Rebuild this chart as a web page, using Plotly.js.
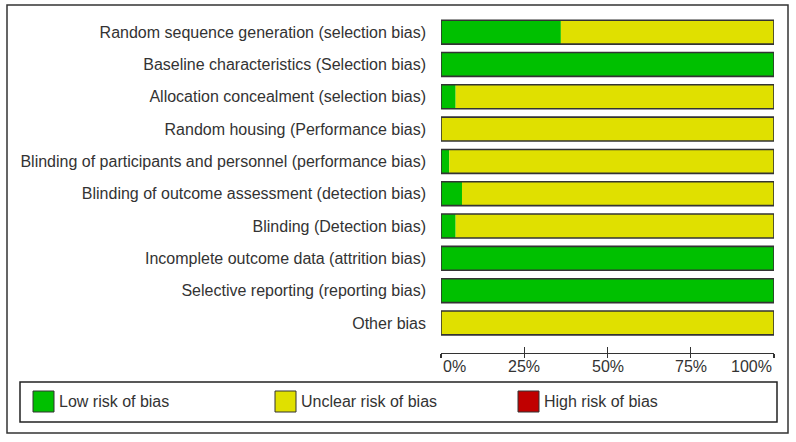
<!DOCTYPE html>
<html>
<head>
<meta charset="utf-8">
<script src="https://cdn.plot.ly/plotly-3.0.1.min.js"></script>
<style>html,body{margin:0;padding:0;background:#fff;}#chart{width:796px;height:442px;}</style>
</head>
<body>
<div id="chart"></div>
<script>
// ---- data ----
const domains = [
  "Random sequence generation (selection bias)",
  "Baseline characteristics (Selection bias)",
  "Allocation concealment (selection bias)",
  "Random housing (Performance bias)",
  "Blinding of participants and personnel (performance bias)",
  "Blinding of outcome assessment (detection bias)",
  "Blinding (Detection bias)",
  "Incomplete outcome data (attrition bias)",
  "Selective reporting (reporting bias)",
  "Other bias"
];
const lowRisk     = [36, 100, 4.4, 0, 2.5, 6.3, 4.4, 100, 100, 0];
const unclearRisk = [64, 0, 95.6, 100, 97.5, 93.7, 95.6, 0, 0, 100];
const highRisk    = [0, 0, 0, 0, 0, 0, 0, 0, 0, 0];
const seriesNames = ["Low risk of bias", "Unclear risk of bias", "High risk of bias"];
const seriesColors = ["#00c000", "#e0e000", "#c00000"];
const tickVals = [0, 25, 50, 75, 100];
const tickLabels = ["0%", "25%", "50%", "75%", "100%"];

// ---- layout helpers (pixel -> paper) ----
const W = 796, H = 442;
const mL = 441, mR = 22, mT = 16, mB = 89;
const pw = W - mL - mR, ph = H - mT - mB;
const px = x => (x - mL) / pw;
const py = y => (H - mB - y) / ph;

const base2 = lowRisk.map((v, i) => v + unclearRisk[i]);
const totals = base2.map((v, i) => v + highRisk[i]);

const common = {type: 'bar', orientation: 'h', y: domains, width: 0.74, hoverinfo: 'skip', showlegend: false};
const traces = [
  Object.assign({}, common, {name: seriesNames[0], x: lowRisk, base: lowRisk.map(() => 0),
    marker: {color: seriesColors[0], line: {width: 0}}}),
  Object.assign({}, common, {name: seriesNames[1], x: unclearRisk, base: lowRisk,
    marker: {color: seriesColors[1], line: {width: 0}}}),
  Object.assign({}, common, {name: seriesNames[2], x: highRisk, base: base2,
    marker: {color: seriesColors[2], line: {width: 0}}}),
  Object.assign({}, common, {name: 'outline', x: totals, base: totals.map(() => 0),
    marker: {color: 'rgba(0,0,0,0)', line: {width: 1.6, color: '#333333'}}}),
  // helper trace for downward tick marks on overlaid axis
  {type: 'scatter', x: [0], y: [0], xaxis: 'x2', yaxis: 'y', mode: 'none', hoverinfo: 'skip', showlegend: false}
];

const font = {family: 'Arial, "Liberation Sans", sans-serif', size: 16, color: '#333333'};

const shapes = [
  // outer border
  {type: 'rect', xref: 'paper', yref: 'paper', x0: px(7), x1: px(788), y0: py(5), y1: py(433),
   line: {color: '#333333', width: 1.5}, fillcolor: 'rgba(0,0,0,0)', layer: 'below'},
  // legend box
  {type: 'rect', xref: 'paper', yref: 'paper', x0: px(20), x1: px(777), y0: py(382), y1: py(422),
   line: {color: '#222222', width: 1.5}, fillcolor: 'rgba(0,0,0,0)'}
];
const annotations = [];
const swatchX = [33, 275, 518];
seriesNames.forEach((n, i) => {
  shapes.push({type: 'rect', xref: 'paper', yref: 'paper',
    x0: px(swatchX[i]), x1: px(swatchX[i] + 21), y0: py(391), y1: py(412),
    fillcolor: seriesColors[i], line: {color: '#333333', width: 1}});
  annotations.push({xref: 'paper', yref: 'paper', x: px(swatchX[i] + 24), y: py(401.5),
    xanchor: 'left', yanchor: 'middle', text: n, showarrow: false, font: font});
});
tickVals.forEach((v, i) => {
  annotations.push({xref: 'x', yref: 'paper', x: v, y: 0, yshift: -3,
    xanchor: i === 0 ? 'left' : (i === tickVals.length - 1 ? 'right' : 'center'),
    yanchor: 'top', text: tickLabels[i], showarrow: false, font: font});
});

const layout = {
  width: W, height: H,
  margin: {l: mL, r: mR, t: mT, b: mB, pad: 0},
  paper_bgcolor: '#ffffff', plot_bgcolor: '#ffffff',
  barmode: 'overlay',
  showlegend: false,
  font: font,
  xaxis: {range: [0, 100], showgrid: false, zeroline: false, showline: true, linecolor: '#333333', linewidth: 1.2,
    tickvals: tickVals, ticks: 'inside', ticklen: 6, tickwidth: 1.2, tickcolor: '#333333',
    showticklabels: false, fixedrange: true},
  xaxis2: {range: [0, 100], overlaying: 'x', anchor: 'y', side: 'bottom', showgrid: false, zeroline: false,
    showline: false, tickvals: tickVals, ticks: 'outside', ticklen: 4, tickwidth: 1.2, tickcolor: '#333333',
    showticklabels: false, fixedrange: true},
  yaxis: {type: 'category', range: [9.93, -0.5], showgrid: false, zeroline: false, showline: false,
    ticks: '', ticklabelstandoff: 14, tickfont: font, fixedrange: true},
  shapes: shapes,
  annotations: annotations
};

Plotly.newPlot('chart', traces, layout, {staticPlot: true, displayModeBar: false});
</script>
</body>
</html>
